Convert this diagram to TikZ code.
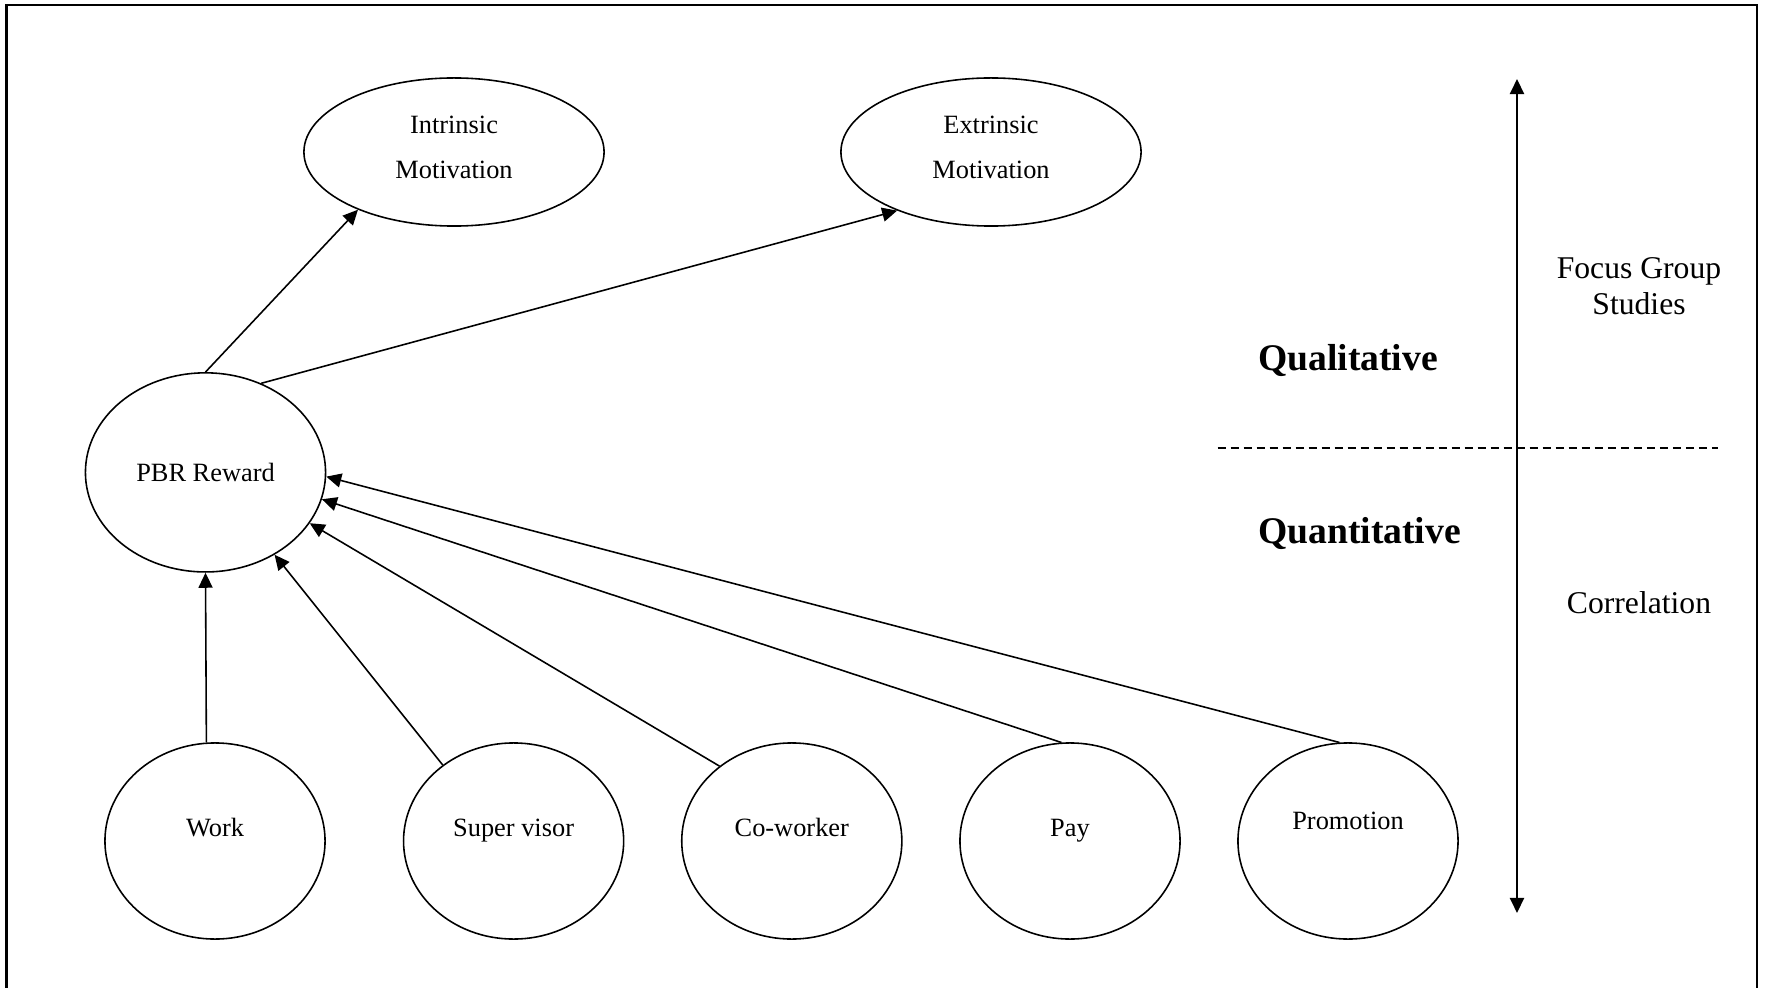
\documentclass[tikz,border=0pt]{standalone}
\usepackage{fontspec}
\setmainfont{Liberation Serif}
\usetikzlibrary{arrows.meta,shapes.geometric}
\begin{document}
\begin{tikzpicture}[x=0.01cm,y=-0.01cm,
  >={Triangle[length=0.15cm,width=0.14cm]},
  oval/.style={draw, ellipse, inner sep=0pt, line width=0.45pt,
    font=\fontsize{7.5}{9}\selectfont},
  motive/.style={oval, minimum width=3cm, minimum height=1.48cm,
    align=center, font=\fontsize{7.5}{12.8}\selectfont, text depth=2.6pt},
  factor/.style={oval, minimum width=2.2cm, minimum height=1.96cm,
    text height=0.18cm, text depth=0.28cm},
  link/.style={line width=0.45pt, ->},
  side/.style={font=\fontsize{9}{10.2}\selectfont, align=center},
  method/.style={font=\fontsize{10.7}{12}\selectfont\bfseries}
]
\useasboundingbox (0,0) rectangle (1766,988);

% outer frame (open at the lower edge)
\draw[line width=0.7pt] (6.5,995) -- (6.5,5) -- (1757,5) -- (1757,995);

% outcome ovals
\node[motive] (intr) at (454,152) {Intrinsic\\Motivation};
\node[motive] (extr) at (991,152) {Extrinsic\\Motivation};

% central construct
\node[oval, minimum width=2.4cm, minimum height=1.99cm] (pbr) at (205.5,472.4) {PBR Reward};

% job facets
\node[factor] (work)  at (215,841)   {Work};
\node[factor] (super) at (513.6,841) {Super visor};
\node[factor] (cowork) at (791.8,841) {Co-worker};
\node[factor] (pay)   at (1070,841)  {Pay};
\node[factor, text depth=0.40cm] (promo) at (1348,841) {Promotion};

% links to the outcomes
\draw[link] (pbr.90) -- (intr.211);
\draw[link] (pbr.58.7) -- (extr.212);

% links from the facets
\draw[link] (work.95) -- (pbr.270);
\draw[link] (super.133.3) -- (pbr.310);
\draw[link] (cowork.134.7) -- (pbr.334);
\draw[link] (pay.95.3) -- (pbr.347.4);
\draw[link] (promo.95.3) -- (pbr.358.6);

% method axis
\coordinate (vtop) at (1517,79);
\coordinate (vbot) at (1517,913);
\draw[line width=0.55pt, <->] (vtop) -- (vbot);

\coordinate (dl) at (1217.5,448);
\coordinate (dr) at (1717.6,448);
\draw[line width=0.45pt, dash pattern=on 0.08cm off 0.05cm] (dl) -- (dr);

\node[method] (qual) at (1348,360.5) {Qualitative};
\node[method] (quant) at (1359.5,533) {Quantitative};
\node[side] (focus) at (1639,286) {Focus Group\\Studies};
\node[side] (corr) at (1639,602.5) {Correlation};
\end{tikzpicture}
\end{document}
